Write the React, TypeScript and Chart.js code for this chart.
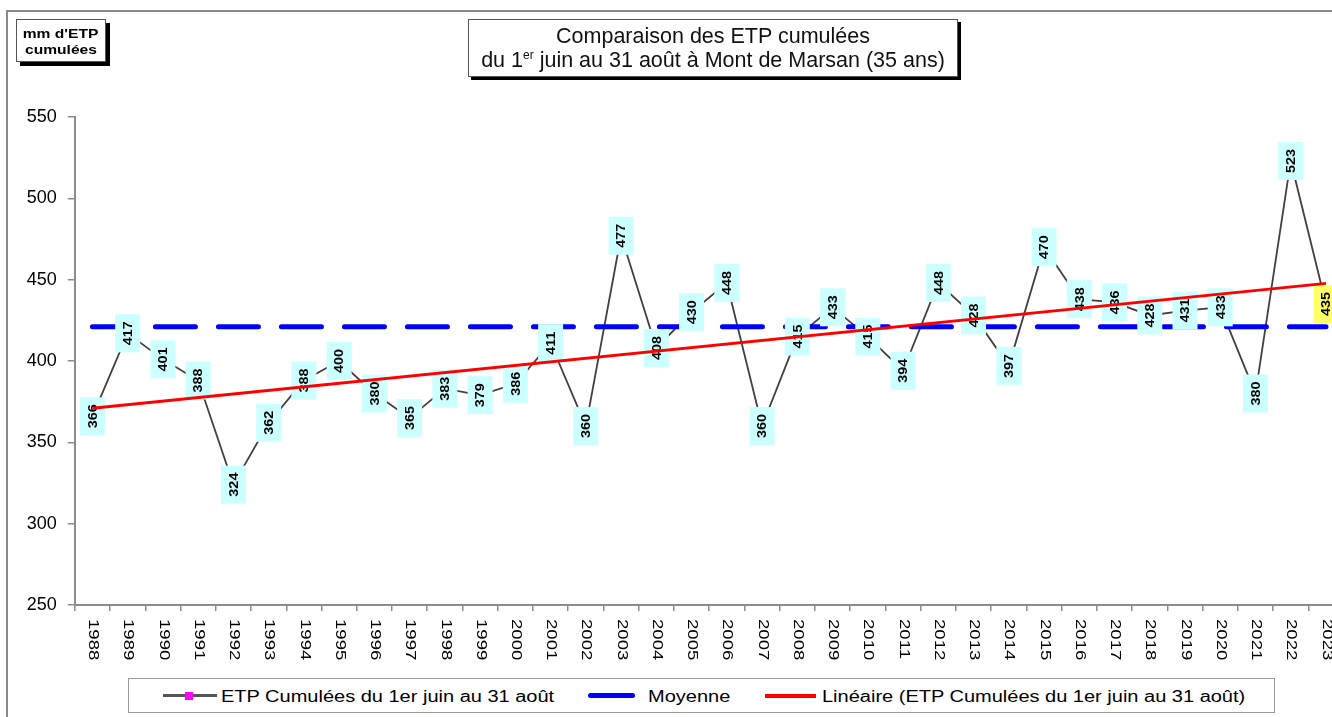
import React, { useEffect, useRef } from 'react';
import { Chart, registerables } from 'chart.js';

Chart.register(...registerables);

// ---------- data ----------
const YEARS = [
  '1988', '1989', '1990', '1991', '1992', '1993', '1994', '1995', '1996', '1997', '1998', '1999',
  '2000', '2001', '2002', '2003', '2004', '2005', '2006', '2007', '2008', '2009', '2010', '2011',
  '2012', '2013', '2014', '2015', '2016', '2017', '2018', '2019', '2020', '2021', '2022', '2023',
];
const ETP = [
  366, 417, 401, 388, 324, 362, 388, 400, 380, 365, 383, 379,
  386, 411, 360, 477, 408, 430, 448, 360, 415, 433, 415, 394,
  448, 428, 397, 470, 438, 436, 428, 431, 433, 380, 523, 435,
];
const MOYENNE = 421;
const Y_TICKS = [250, 300, 350, 400, 450, 500, 550];
const HIGHLIGHT_YEAR = '2023';
const TITLE_LINE_1 = 'Comparaison des ETP cumulées';
const Y_LABEL = ["mm d'ETP", 'cumulées'];
const LEGEND_LABELS = [
  'ETP Cumulées du 1er juin au 31 août',
  'Moyenne',
  'Linéaire (ETP Cumulées du 1er juin au 31 août)',
];

const FONT = '"Liberation Sans", Arial, Helvetica, sans-serif';
const CANVAS_W = 1360;
const CANVAS_H = 717;

// least-squares trend evaluated at the first and last category
function trendEnds(values: number[]): [number, number] {
  const n = values.length;
  let sx = 0, sy = 0, sxy = 0, sxx = 0;
  values.forEach((v, i) => { sx += i; sy += v; sxy += i * v; sxx += i * i; });
  const slope = (n * sxy - sx * sy) / (n * sxx - sx * sx);
  const inter = (sy - slope * sx) / n;
  return [inter, inter + slope * (n - 1)];
}

const labelPlugin = {
  id: 'etpLabels',
  afterDatasetDraw(chart: any, args: any) {
    if (args.index !== 1) return;
    const meta = chart.getDatasetMeta(0);
    const ctx = chart.ctx;
    meta.data.forEach((pt: any, i: number) => {
      const { x, y } = pt.getProps(['x', 'y'], true);
      const w = 25, h = 38;
      ctx.save();
      ctx.fillStyle = YEARS[i] === HIGHLIGHT_YEAR ? '#ffff66' : '#ccffff';
      ctx.fillRect(x - w / 2, y - h / 2, w, h);
      ctx.translate(x, y);
      ctx.rotate(-Math.PI / 2);
      ctx.scale(1.2, 1);
      ctx.font = `bold 12px ${FONT}`;
      ctx.textAlign = 'center';
      ctx.textBaseline = 'middle';
      ctx.fillStyle = '#000';
      ctx.fillText(String(ETP[i]), 0, 1);
      ctx.restore();
    });
  },
};

const yearLabelPlugin = {
  id: 'yearLabels',
  afterDraw(chart: any) {
    const ctx = chart.ctx;
    const xs = chart.scales.x;
    const bottom = chart.chartArea.bottom;
    ctx.save();
    ctx.font = `14px ${FONT}`;
    ctx.fillStyle = '#000';
    ctx.textAlign = 'left';
    ctx.textBaseline = 'middle';
    YEARS.forEach((yr, i) => {
      const x = xs.getPixelForValue(i);
      ctx.save();
      ctx.translate(x + 0.5, bottom + 14);
      ctx.rotate(Math.PI / 2);
      ctx.scale(1.33, 1);
      ctx.fillText(yr, 0, 0);
      ctx.restore();
    });
    ctx.restore();
  },
};

export default function App() {
  const canvasRef = useRef<HTMLCanvasElement | null>(null);

  useEffect(() => {
    const canvas = canvasRef.current;
    if (!canvas) return;
    const [t0, t1] = trendEnds(ETP);
    const first = YEARS[0];
    const last = YEARS[YEARS.length - 1];
    const chart = new Chart(canvas, {
      type: 'line',
      data: {
        labels: YEARS,
        datasets: [
          {
            label: LEGEND_LABELS[0],
            data: ETP,
            borderColor: '#404040',
            borderWidth: 1.8,
            pointStyle: 'rect',
            pointRadius: 4,
            pointBackgroundColor: '#ff00ff',
            pointBorderColor: '#ff00ff',
            tension: 0,
            order: 3,
          },
          {
            label: LEGEND_LABELS[1],
            data: [{ x: first, y: MOYENNE }, { x: last, y: MOYENNE }] as any,
            borderColor: '#0000ff',
            borderWidth: 5,
            borderDash: [40, 23],
            borderCapStyle: 'round',
            pointRadius: 0,
            order: 2,
          },
          {
            label: LEGEND_LABELS[2],
            data: [{ x: first, y: t0 }, { x: last, y: t1 }] as any,
            borderColor: '#ff0000',
            borderWidth: 3,
            pointRadius: 0,
            order: 1,
          },
        ],
      },
      options: {
        animation: false,
        responsive: false,
        events: [],
        layout: { padding: { left: 0, top: 117, right: CANVAS_W - 1343.6, bottom: 0 } },
        plugins: {
          legend: { display: false },
          title: { display: false },
          tooltip: { enabled: false },
        },
        scales: {
          x: {
            type: 'category',
            offset: true,
            grid: {
              offset: true,
              display: true,
              drawOnChartArea: false,
              drawTicks: true,
              tickLength: 6,
              color: '#8c8c8c',
              lineWidth: 1.5,
            },
            border: { display: true, color: '#8c8c8c', width: 2 },
            ticks: { display: false },
            afterFit: (scale: any) => { scale.height = CANVAS_H - 605; },
          },
          y: {
            min: Y_TICKS[0],
            max: Y_TICKS[Y_TICKS.length - 1],
            grid: {
              display: true,
              drawOnChartArea: false,
              drawTicks: true,
              tickLength: 7,
              color: '#8c8c8c',
              lineWidth: 1.5,
            },
            border: { display: true, color: '#8c8c8c', width: 2 },
            ticks: {
              stepSize: Y_TICKS[1] - Y_TICKS[0],
              padding: 11,
              color: '#000',
              font: { family: FONT, size: 18 },
            },
            afterFit: (scale: any) => { scale.width = 74.8; },
          },
        },
      },
      plugins: [labelPlugin, yearLabelPlugin],
    });
    return () => chart.destroy();
  }, []);

  const stretch = (s: number, origin = 'left center'): React.CSSProperties => ({
    display: 'inline-block',
    transform: `scaleX(${s})`,
    transformOrigin: origin,
    whiteSpace: 'nowrap',
  });

  const legendText = (left: number, text: string) => (
    <div style={{ position: 'absolute', left, top: 687, fontSize: 16, lineHeight: '20px', color: '#000', whiteSpace: 'nowrap' }}>
      <span style={stretch(1.25)}>{text}</span>
    </div>
  );

  return (
    <div
      style={{
        position: 'fixed', left: 0, top: 0, width: 1332, height: 717, overflow: 'hidden',
        background: '#fff', fontFamily: FONT,
      }}
    >
      {/* outer frame */}
      <div
        style={{
          position: 'absolute', left: 6, top: 10, width: 1500, height: 900,
          borderLeft: '2px solid #8a8a8a', borderTop: '2px solid #8a8a8a',
        }}
      />
      <canvas
        ref={canvasRef}
        width={CANVAS_W}
        height={CANVAS_H}
        style={{ position: 'absolute', left: 0, top: 0, width: CANVAS_W, height: CANVAS_H }}
      />
      {/* y-axis label box */}
      <div
        style={{
          position: 'absolute', left: 16, top: 19, width: 90, height: 43, boxSizing: 'border-box',
          border: '1px solid #555', background: '#fff', boxShadow: '4px 4px 0 #000',
          fontWeight: 'bold', fontSize: 13, lineHeight: '16px', textAlign: 'center', paddingTop: 6,
        }}
      >
        <div><span style={stretch(1.2, 'center')}>{Y_LABEL[0]}</span></div>
        <div><span style={stretch(1.2, 'center')}>{Y_LABEL[1]}</span></div>
      </div>
      {/* title box */}
      <div
        style={{
          position: 'absolute', left: 468, top: 19, width: 490, height: 58, boxSizing: 'border-box',
          border: '1px solid #555', background: '#fff', boxShadow: '3px 3px 0 #000',
          fontSize: 21.5, color: '#111', textAlign: 'center',
        }}
      >
        <div style={{ position: 'absolute', left: 0, right: 0, top: 4, lineHeight: '24px', whiteSpace: 'nowrap' }}>
          {TITLE_LINE_1}
        </div>
        <div style={{ position: 'absolute', left: 0, right: 0, top: 28, lineHeight: '24px', whiteSpace: 'nowrap' }}>
          du 1<span style={{ fontSize: 12, position: 'relative', top: -8 }}>er</span> juin au 31 août à Mont de Marsan (35 ans)
        </div>
      </div>
      {/* legend */}
      <div
        style={{
          position: 'absolute', left: 128, top: 678, width: 1147, height: 35, boxSizing: 'border-box',
          border: '1.5px solid #9a9a9a', background: '#fff',
        }}
      />
      <div style={{ position: 'absolute', left: 163, top: 694, width: 54, height: 3, background: '#555' }} />
      <div style={{ position: 'absolute', left: 185, top: 691.5, width: 8, height: 8, background: '#ff00ff' }} />
      {legendText(221, LEGEND_LABELS[0])}
      <div style={{ position: 'absolute', left: 588, top: 693, width: 47, height: 5, borderRadius: 2.5, background: '#0000ff' }} />
      {legendText(648, LEGEND_LABELS[1])}
      <div style={{ position: 'absolute', left: 765, top: 693.5, width: 51, height: 4, background: '#ff0000' }} />
      {legendText(822, LEGEND_LABELS[2])}
    </div>
  );
}
